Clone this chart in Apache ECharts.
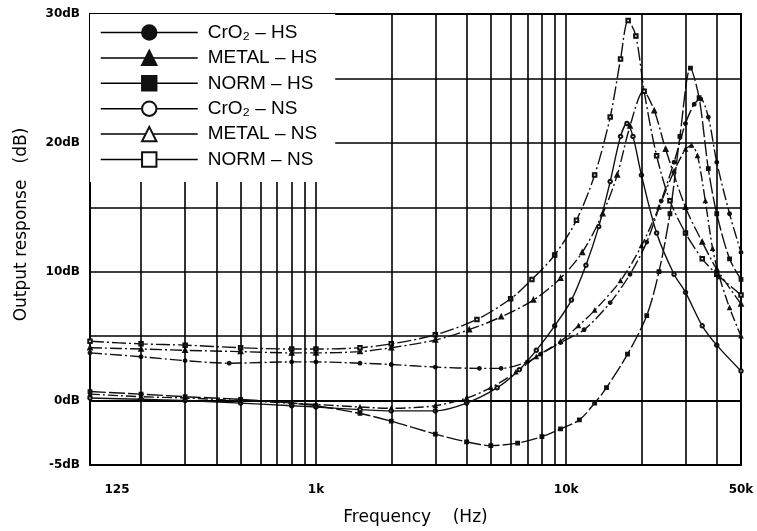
<!DOCTYPE html>
<html>
<head>
<meta charset="utf-8">
<script src="https://cdn.jsdelivr.net/npm/echarts@6/dist/echarts.min.js"></script>
<style>
  html, body { margin: 0; padding: 0; background: #fff; }
  #chart { width: 757px; height: 531px; }
</style>
</head>
<body>
<div id="chart"></div>
<script>
const chartDom = document.getElementById("chart");
let myChart = echarts.init(chartDom);

/** axis ticks */
const freqTicks = [125, 1000, 10000, 50000];
const freqTickLabels = ["125", "1k", "10k", "50k"];
const gridFreqs = [200, 300, 400, 500, 600, 700, 800, 900, 1000,
  2000, 3000, 4000, 5000, 6000, 7000, 8000, 9000, 10000, 20000, 30000, 40000];
const dbLabels = [30, 20, 10, 0, -5];

/** series names (legend order) */
const seriesNames = ["CrO₂ – HS", "METAL – HS", "NORM – HS", "CrO₂ – NS", "METAL – NS", "NORM – NS"];

/** CrO2 - HS */
const cro2HsFreq = [125, 200, 300, 450, 800, 1000, 1500, 2000, 3000, 4500, 5500, 7000, 7900, 9500, 11800, 15000, 18000, 21000, 24000, 27000, 30000, 32500, 34500, 37000, 40000, 45000, 50000];
const cro2HsDb = [3.7, 3.4, 3.1, 2.9, 3.0, 3.0, 2.9, 2.8, 2.6, 2.5, 2.5, 3.0, 3.6, 4.5, 5.5, 7.6, 9.8, 12.3, 15.5, 18.5, 21.5, 23.0, 23.4, 22.0, 18.5, 14.5, 11.5];

/** METAL - HS */
const metalHsFreq = [125, 200, 300, 500, 800, 1000, 1500, 2000, 3000, 4000, 5000, 6300, 7600, 9500, 11200, 13000, 16500, 20000, 23500, 27000, 30000, 31700, 33500, 36000, 38500, 41000, 45000, 50000];
const metalHsDb = [0.5, 0.3, 0.2, 0.0, -0.2, -0.3, -0.5, -0.6, -0.4, 0.2, 1.0, 2.2, 3.4, 4.6, 5.8, 7.0, 9.3, 12.0, 15.0, 17.8, 19.5, 19.8, 19.0, 15.5, 11.8, 9.6, 7.2, 5.0];

/** NORM - HS */
const normHsFreq = [125, 200, 300, 500, 800, 1000, 1500, 2000, 3000, 4000, 5000, 6400, 8000, 9500, 11300, 13000, 14500, 17600, 21000, 23500, 26000, 28500, 31400, 34000, 37000, 40000, 45000, 50000];
const normHsDb = [0.7, 0.5, 0.3, 0.1, -0.2, -0.4, -1.0, -1.6, -2.6, -3.2, -3.5, -3.3, -2.8, -2.2, -1.5, -0.2, 1.0, 3.6, 6.6, 10.0, 14.5, 20.5, 25.8, 23.5, 18.0, 14.5, 11.0, 9.4];

/** CrO2 - NS */
const cro2NsFreq = [125, 200, 300, 500, 800, 1000, 1500, 2000, 3000, 4000, 5300, 6500, 7600, 9000, 10500, 12000, 13500, 15000, 16500, 17500, 18500, 20000, 23000, 27000, 30000, 35000, 40000, 50000];
const cro2NsDb = [0.2, 0.1, 0.0, -0.2, -0.4, -0.5, -0.7, -0.8, -0.8, -0.2, 1.0, 2.4, 3.9, 5.8, 7.8, 10.5, 13.5, 17.0, 20.5, 21.5, 20.5, 17.5, 13.0, 9.8, 8.4, 5.8, 4.3, 2.3];

/** METAL - NS */
const metalNsFreq = [125, 200, 300, 500, 800, 1000, 1500, 2000, 3000, 4100, 5500, 7400, 9500, 11600, 14000, 16000, 18000, 20400, 22500, 25000, 30000, 35000, 40000, 50000];
const metalNsDb = [4.1, 4.0, 3.9, 3.8, 3.7, 3.7, 3.8, 4.1, 4.7, 5.5, 6.5, 7.8, 9.5, 11.5, 14.5, 17.5, 21.3, 24.0, 22.5, 19.5, 15.0, 12.3, 10.2, 7.5];

/** NORM - NS */
const normNsFreq = [125, 200, 300, 500, 800, 1000, 1500, 2000, 3000, 4400, 6000, 7300, 9000, 11000, 13000, 15000, 16500, 17700, 19000, 20500, 23000, 26000, 30000, 35000, 40000, 50000];
const normNsDb = [4.6, 4.4, 4.3, 4.1, 4.0, 4.0, 4.1, 4.4, 5.1, 6.3, 7.9, 9.4, 11.3, 14.0, 17.5, 22.0, 26.5, 29.5, 28.3, 24.0, 19.0, 15.5, 13.0, 11.0, 9.8, 8.2];

function pairs(freqs, dbs) {
  return freqs.map((f, i) => [f, dbs[i]]);
}

const curves = [
  { data: pairs(cro2HsFreq, cro2HsDb), symbol: "circle", dash: [12, 3, 2, 3] },
  { data: pairs(metalHsFreq, metalHsDb), symbol: "triangle", dash: [10, 3, 2, 3] },
  { data: pairs(normHsFreq, normHsDb), symbol: "rect", dash: [16, 3] },
  { data: pairs(cro2NsFreq, cro2NsDb), symbol: "emptyCircle", dash: "solid" },
  { data: pairs(metalNsFreq, metalNsDb), symbol: "emptyTriangle", dash: [12, 3, 2, 3] },
  { data: pairs(normNsFreq, normNsDb), symbol: "emptyRect", dash: [14, 3, 2, 3] },
];

const series = curves.map((c, i) => ({
  name: seriesNames[i],
  type: "line",
  smooth: 0.3,
  symbol: c.symbol,
  symbolSize: 3.5,
  data: c.data,
  lineStyle: { color: "#111", width: 1.4, type: c.dash },
  itemStyle: { color: "#111", borderColor: "#111", borderWidth: 1.3 },
  z: 3,
}));

/** vertical grid lines */
series.push({
  name: "grid",
  type: "line",
  data: [],
  silent: true,
  markLine: {
    silent: true,
    symbol: ["none", "none"],
    label: { show: false },
    lineStyle: { color: "#000", width: 1.6, type: "solid" },
    data: gridFreqs.map((f) => ({ xAxis: f })),
  },
  z: 1,
});

let option = {
  animation: false,
  backgroundColor: "#fff",
  grid: {
    left: 90,
    right: 16,
    top: 14,
    bottom: 62,
    show: true,
    borderColor: "#000",
    borderWidth: 2,
  },
  legend: {
    data: seriesNames,
    orient: "vertical",
    left: 90,
    top: 14,
    padding: [9, 18, 13, 10],
    itemGap: 6.4,
    itemWidth: 97,
    itemHeight: 18,
    backgroundColor: "#fff",
    selectedMode: false,
    lineStyle: { type: "solid", width: 1.5, color: "#000" },
    textStyle: { fontFamily: "Liberation Sans", fontSize: 19, color: "#000", padding: [0, 0, 0, 5] },
    z: 10,
  },
  xAxis: {
    type: "log",
    logBase: 10,
    min: 125,
    max: 50000,
    name: "Frequency    (Hz)",
    nameLocation: "middle",
    nameGap: 44,
    nameTextStyle: { fontFamily: "DejaVu Sans", fontSize: 17, color: "#000" },
    axisLine: { show: true, lineStyle: { color: "#000", width: 2 } },
    axisTick: { show: false },
    splitLine: { show: false },
    axisLabel: {
      customValues: freqTicks,
      margin: 19,
      color: "#000",
      fontFamily: "DejaVu Sans",
      fontWeight: "bold",
      fontSize: 12,
      formatter: (v) => {
        const i = freqTicks.indexOf(v);
        if (i === 0) return "{first|" + freqTickLabels[0] + "}";
        return i >= 0 ? freqTickLabels[i] : "";
      },
      rich: {
        first: { padding: [0, 0, 0, 54], fontWeight: "bold", fontSize: 12, fontFamily: "DejaVu Sans", color: "#000" },
      },
    },
  },
  yAxis: {
    type: "value",
    min: -5,
    max: 30,
    interval: 5,
    name: "Output response   (dB)",
    nameLocation: "middle",
    nameGap: 60,
    nameTextStyle: { fontFamily: "DejaVu Sans", fontSize: 17, color: "#000", padding: [0, 0, 0, 30] },
    axisLine: { show: true, lineStyle: { color: "#000", width: 2 } },
    axisTick: { show: false },
    splitLine: { show: true, lineStyle: { color: "#000", width: 1.6 } },
    axisLabel: {
      margin: 10,
      color: "#000",
      fontFamily: "DejaVu Sans",
      fontWeight: "bold",
      fontSize: 12,
      formatter: (v) => (dbLabels.indexOf(v) >= 0 ? v + "dB" : ""),
    },
  },
  series: series,
};

option && myChart.setOption(option);
</script>
</body>
</html>
